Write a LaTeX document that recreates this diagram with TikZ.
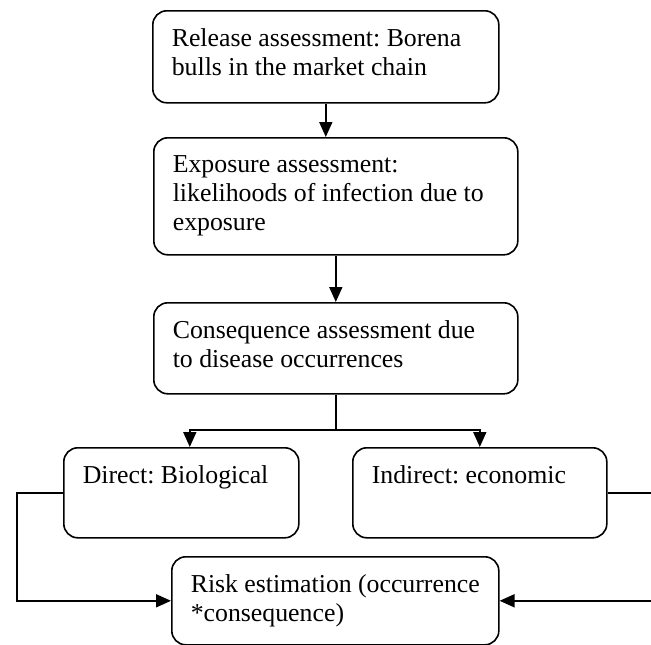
\documentclass[tikz,border=0pt]{standalone}
\usepackage{fontspec}
\setmainfont{Liberation Serif}
\usetikzlibrary{arrows.meta}
\frenchspacing

% text block of a stage: width, height, lines
\newcommand{\stagetext}[3]{\parbox[t][#2][t]{#1}{\raggedright #3}}

\begin{document}
\begin{tikzpicture}[x=1pt, y=-1pt,
    stage/.style={draw, line width=1.6pt, rounded corners=14pt, anchor=north west,
        inner xsep=19pt, inner ysep=18pt, font=\fontsize{25.8}{29}\selectfont},
    flow/.style={line width=1.8pt, -{Triangle[length=15pt,width=13pt]}},
    link/.style={line width=1.8pt}]
    \useasboundingbox (0,0) rectangle (651,645);

    %% the chain of assessments
    \node[stage] (release) at (152,10)
        {\stagetext{308pt}{56pt}{Release assessment: Borena\\ bulls in the market chain}};
    \node[stage] (exposure) at (153,137)
        {\stagetext{326pt}{81pt}{Exposure assessment:\\ likelihoods of infection due to\\ exposure}};
    \node[stage] (consequence) at (153,302)
        {\stagetext{326pt}{55pt}{Consequence assessment due\\ to disease occurrences}};
    \node[stage] (direct) at (63,447)
        {\stagetext{197pt}{54pt}{Direct: Biological}};
    \node[stage] (indirect) at (352,447)
        {\stagetext{216pt}{54pt}{Indirect: economic}};
    \node[stage] (risk) at (171,556)
        {\stagetext{289pt}{52pt}{Risk estimation (occurrence\\ {*}consequence)}};

    \path (consequence.south) ++(0,35.5) coordinate (split);

    \draw[flow] (release.south) -- (release.south |- exposure.north);
    \draw[flow] (exposure.south) -- (consequence.north);
    \draw[link] (consequence.south) -- (split);
    \draw[flow] (split) -| ([xshift=8.5pt]direct.north);
    \draw[flow] (split) -| (indirect.north);
    % both consequences feed the risk estimate
    \draw[flow] (direct.west) -- ++(-46,0) |- (risk.west);
    \draw[flow] (indirect.east) -- ++(44,0) |- (risk.east);
\end{tikzpicture}
\end{document}
